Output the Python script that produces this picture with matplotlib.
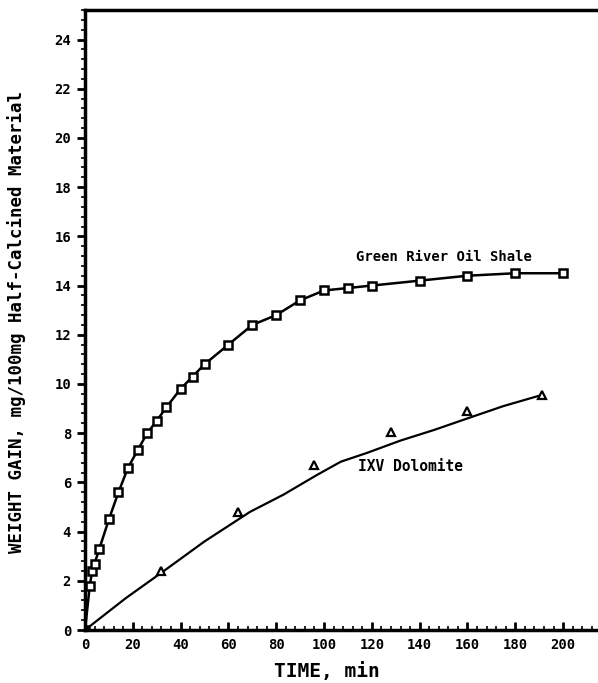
import numpy as np
import matplotlib.pyplot as plt
from matplotlib.ticker import MultipleLocator

# Green River Oil Shale (squares)
shale_t = [0, 2, 3, 4, 6, 10, 14, 18, 22, 26, 30, 34, 40, 45, 50, 60, 70, 80, 90,
           100, 110, 120, 140, 160, 180, 200]
shale_w = [0, 1.8, 2.4, 2.7, 3.3, 4.5, 5.6, 6.6, 7.3, 8.0, 8.5, 9.05, 9.8, 10.3,
           10.8, 11.6, 12.4, 12.8, 13.4, 13.8, 13.9, 14.0, 14.2, 14.4, 14.5, 14.5]

# IXV Dolomite (triangles) and its fitted curve
dolo_t = [32, 64, 96, 128, 160, 191]
dolo_w = [2.4, 4.8, 6.7, 8.05, 8.9, 9.55]
dolo_fit_t = [0, 17, 33, 50, 69, 83, 97, 107, 118, 132, 146, 160, 175, 191]
dolo_fit_w = [0, 1.29, 2.4, 3.6, 4.8, 5.5, 6.3, 6.84, 7.2, 7.7, 8.13, 8.6, 9.1, 9.55]

xticks = list(range(0, 201, 20))
yticks = list(range(0, 25, 2))

plt.rcParams['font.family'] = 'DejaVu Sans Mono'
plt.rcParams['font.weight'] = 'bold'

fig = plt.figure(figsize=(5.98, 6.83), dpi=100)
ax = fig.add_axes([85 / 598, 53 / 683, 513 / 598, 620 / 683])

ax.plot(shale_t, shale_w, color='black', lw=1.8, marker='s', ms=6,
        mfc='white', mec='black', mew=1.8)
ax.plot(dolo_fit_t, dolo_fit_w, color='black', lw=1.6)
ax.plot(dolo_t, dolo_w, ls='none', marker='^', ms=6, mfc='white',
        mec='black', mew=1.6)

ax.text(113.5, 15.15, 'Green River Oil Shale', fontsize=10, fontweight='bold',
        va='center')
ax.text(114, 6.64, 'IXV Dolomite', fontsize=10.5, fontweight='bold',
        va='center')

ax.set_xlim(0, 214.6)
ax.set_ylim(0, 25.2)
ax.set_xticks(xticks)
ax.set_yticks(yticks)
ax.xaxis.set_minor_locator(MultipleLocator(4))
ax.yaxis.set_minor_locator(MultipleLocator(0.4))
ax.tick_params(axis='x', which='major', direction='in', length=6, width=2,
               labelsize=10, pad=6)
ax.tick_params(axis='x', which='minor', direction='in', length=3, width=1.2)
ax.tick_params(axis='y', which='major', direction='out', length=6, width=2,
               labelsize=10, pad=4)
ax.tick_params(axis='y', which='minor', direction='out', length=3, width=1.2)

for s in ['left', 'bottom', 'top']:
    ax.spines[s].set_linewidth(2.5)
ax.spines['right'].set_visible(False)

ax.set_xlabel('TIME, min', fontsize=14, fontweight='bold')
ax.xaxis.set_label_coords((327 - 85) / 513, -0.052)
ax.set_ylabel('WEIGHT GAIN, mg/100mg Half-Calcined Material', fontsize=12.5,
              fontweight='bold')
ax.yaxis.set_label_coords(-0.115, (630 - 322) / 620)

fig.savefig('out.png', dpi=100)
